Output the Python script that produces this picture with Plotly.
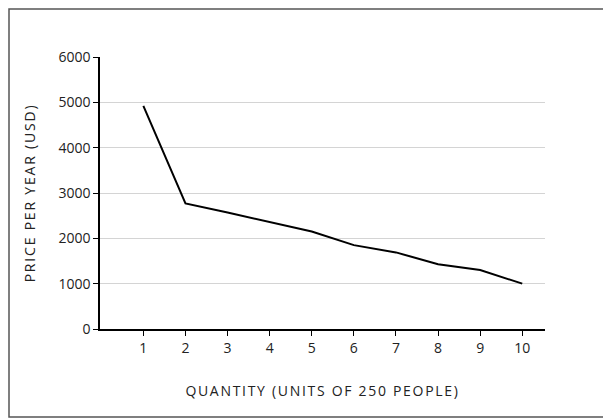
import plotly.graph_objects as go

quantity = [1, 2, 3, 4, 5, 6, 7, 8, 9, 10]
price = [4920, 2770, 2570, 2360, 2150, 1850, 1690, 1430, 1300, 1000]
y_ticks = [0, 1000, 2000, 3000, 4000, 5000, 6000]
x_title = "QUANTITY (UNITS OF 250 PEOPLE)"
y_title = "PRICE PER YEAR (USD)"

fig = go.Figure()
fig.add_trace(go.Scatter(x=quantity, y=price, mode="lines",
                         line=dict(color="#000000", width=2), showlegend=False))

# page has an 8px body margin, so the figure is sized to fit the window
W, H = 603, 411
ml, mr, mt, mb = 92, 66, 49, 90
pw, ph = W - ml - mr, H - mt - mb

def spaced(t, s):
    return '<span style="letter-spacing:%.1fpx">' % s + t + '</span>'

fig.update_layout(
    width=W, height=H,
    margin=dict(l=ml, r=mr, t=mt, b=mb),
    paper_bgcolor="white", plot_bgcolor="white",
    font=dict(family="Open Sans, sans-serif", color="#222222", size=14),
    xaxis=dict(range=[-0.03, 10.54], tickmode="array", tickvals=quantity,
               showgrid=False, zeroline=False, showline=True, linecolor="#000000",
               linewidth=1.5, ticks="outside", ticklen=5, tickcolor="#000000",
               tickfont=dict(size=14, color="#222222"),
               title=dict(text=spaced(x_title, 1.7), font=dict(size=14, color="#222222"), standoff=31)),
    yaxis=dict(range=[0, 6000], tickmode="array", tickvals=y_ticks,
               showgrid=True, gridcolor="#d4d4d4", gridwidth=1, zeroline=False,
               showline=True, linecolor="#000000", linewidth=1.5,
               ticks="outside", ticklen=5, tickcolor="#000000",
               tickfont=dict(size=14, color="#222222"),
               title=dict(text=spaced(y_title, 1.8), font=dict(size=14, color="#222222"), standoff=20)),
    shapes=[dict(type="rect", xref="paper", yref="paper",
                 x0=(1 - ml) / pw, x1=(W - 1 - ml) / pw,
                 y0=(H - mb - (H - 2)) / ph, y1=(H - mb - 1) / ph,
                 line=dict(color="#555555", width=1.5), fillcolor="rgba(0,0,0,0)",
                 layer="below")],
)

fig.write_html("out.html")
